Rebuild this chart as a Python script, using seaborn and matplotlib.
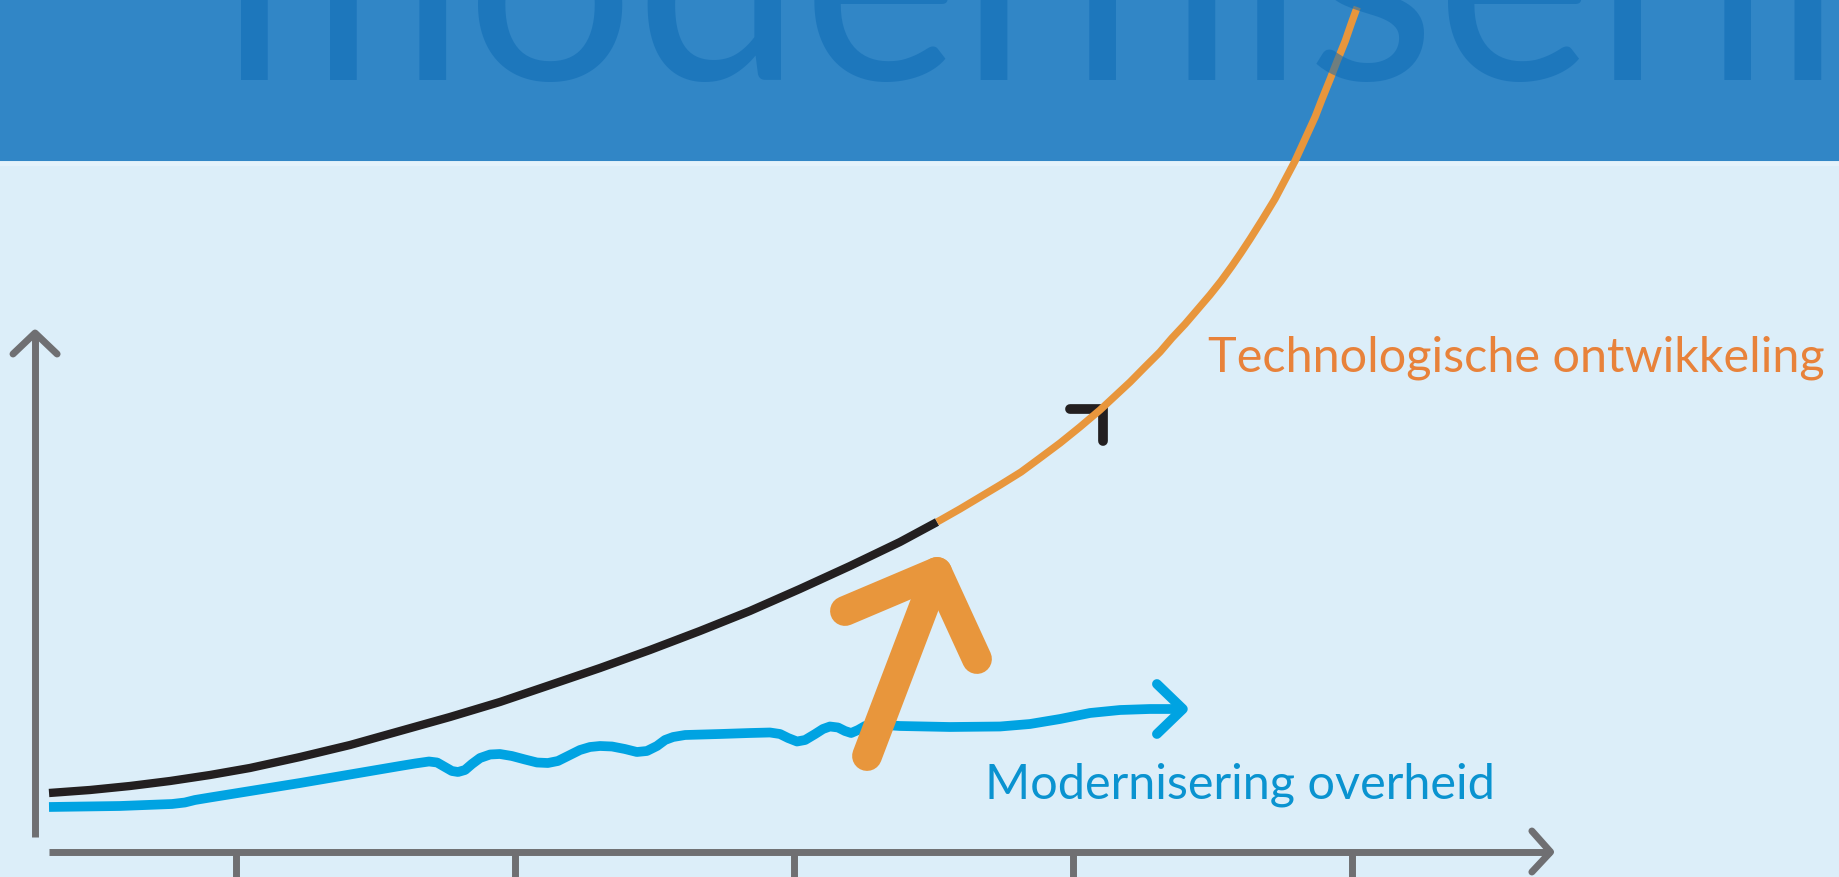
import matplotlib
matplotlib.use("Agg")
import matplotlib.pyplot as plt
import seaborn as sns

# x: tijd (ticks op 1..5), y: niveau (willekeurige eenheden)
tick_pos = [1, 2, 3, 4, 5]

tech_past_x = [0.328, 0.475, 0.618, 0.762, 0.905, 1.048, 1.228, 1.407, 1.586, 1.765,
               1.944, 2.124, 2.303, 2.482, 2.661, 2.840, 3.019, 3.199, 3.378, 3.511]
tech_past_y = [0.59, 0.62, 0.66, 0.71, 0.77, 0.84, 0.95, 1.07, 1.21, 1.35,
               1.50, 1.67, 1.84, 2.02, 2.21, 2.41, 2.63, 2.86, 3.10, 3.30]

tech_future_x = [3.511, 3.593, 3.665, 3.737, 3.812, 3.880, 3.952, 4.023, 4.095, 4.149,
                 4.203, 4.256, 4.310, 4.353, 4.400, 4.443, 4.489, 4.529, 4.568, 4.600,
                 4.633, 4.676, 4.722, 4.758, 4.794, 4.830, 4.866, 4.891, 4.920, 4.945,
                 4.974, 4.995, 5.017]
tech_future_y = [3.30, 3.43, 3.55, 3.67, 3.80, 3.94, 4.09, 4.25, 4.42, 4.56,
                 4.70, 4.85, 5.00, 5.14, 5.28, 5.42, 5.57, 5.71, 5.86, 5.99,
                 6.13, 6.32, 6.53, 6.72, 6.91, 7.13, 7.35, 7.53, 7.73, 7.91,
                 8.11, 8.28, 8.45]

gov_x = [0.328, 0.582, 0.769, 0.815, 0.851, 0.905, 1.228, 1.586, 1.640, 1.690,
         1.719, 1.747, 1.772, 1.794, 1.819, 1.844, 1.873, 1.909, 1.944, 1.987,
         2.034, 2.077, 2.116, 2.152, 2.188, 2.231, 2.267, 2.303, 2.346, 2.392,
         2.435, 2.471, 2.507, 2.536, 2.565, 2.608, 2.733, 2.841, 2.912, 2.948,
         2.977, 3.009, 3.038, 3.074, 3.102, 3.127, 3.156, 3.181, 3.203, 3.228,
         3.253, 3.278, 3.324, 3.378, 3.557, 3.737, 3.844, 3.952, 4.059, 4.167,
         4.274, 4.392]
gov_y = [0.45, 0.46, 0.48, 0.495, 0.52, 0.545, 0.69, 0.86, 0.885, 0.905,
         0.895, 0.85, 0.81, 0.80, 0.82, 0.88, 0.94, 0.975, 0.98, 0.96,
         0.925, 0.895, 0.89, 0.91, 0.96, 1.02, 1.05, 1.06, 1.055, 1.03,
         1.00, 1.01, 1.06, 1.12, 1.15, 1.17, 1.18, 1.19, 1.195, 1.18,
         1.14, 1.105, 1.12, 1.18, 1.23, 1.255, 1.245, 1.21, 1.19, 1.22,
         1.26, 1.275, 1.27, 1.26, 1.25, 1.255, 1.28, 1.33, 1.39, 1.42,
         1.43, 1.43]

title = "modernisering"
label_tech = "Technologische ontwikkeling"
label_gov = "Modernisering overheid"

BG = "#DCEEF9"
BANNER = "#3186C6"
BANNER_TEXT = "#0D6BB5"
BLACK = "#231F20"
ORANGE = "#E8963C"
ORANGE_TXT = "#E8823A"
BLUE = "#00A3E2"
BLUE_TXT = "#0A93D0"
GREY = "#6F6F72"

sns.set_theme(style="white")
plt.rcParams["font.family"] = ["Lato", "DejaVu Sans"]

fig = plt.figure(figsize=(18.39, 8.78), dpi=100)
fig.patch.set_facecolor(BG)
ax = fig.add_axes([0, 0, 1, 1])
ax.set_facecolor(BG)
ax.set_xlim(0.15233, 6.74373)
ax.set_ylim(-0.25, 8.53)
ax.axis("off")

# banner bovenaan
ax.axhspan(6.91, 8.53, color=BANNER, zorder=0, lw=0)
ax.axhspan(6.86, 6.905, color="#E4F2FB", zorder=0, lw=0)


def line(xs, ys, color, lw, cap="round", join="round", z=2):
    sns.lineplot(x=xs, y=ys, ax=ax, color=color, linewidth=lw, estimator=None,
                 sort=False, solid_capstyle=cap, solid_joinstyle=join, zorder=z)


# assen met pijlen
line([0.278, 0.278], [0.15, 5.19], GREY, 5, cap="butt")
line([0.199, 0.278, 0.357], [4.98, 5.19, 4.98], GREY, 5)
line([0.328, 5.71], [0, 0], GREY, 5, cap="butt")
line([5.643, 5.71, 5.643], [0.21, 0, -0.20], GREY, 5)
for t in tick_pos:
    line([t, t], [0, -0.3], GREY, 5, cap="butt")

# lijnen
line(gov_x, gov_y, BLUE, 7, cap="butt")
line([4.299, 4.392, 4.299], [1.68, 1.43, 1.18], BLUE, 7)
line(tech_past_x, tech_past_y, BLACK, 6, cap="butt")
line([3.987, 4.106, 4.106], [4.43, 4.43, 4.11], BLACK, 7, join="miter")
line(tech_future_x, tech_future_y, ORANGE, 5.3, cap="butt", z=3)

# dikke oranje pijl
line([3.260, 3.511], [0.96, 2.80], ORANGE, 21.5, z=4)
line([3.181, 3.511, 3.654], [2.41, 2.80, 1.93], ORANGE, 21.5, z=4)

# teksten
ax.text(0.941, 7.73, title, fontsize=215, color=BANNER_TEXT, alpha=0.55,
        ha="left", va="baseline", zorder=5)
ax.text(4.482, 4.81, label_tech, fontsize=35, color=ORANGE_TXT,
        ha="left", va="baseline", zorder=5)
ax.text(3.683, 0.54, label_gov, fontsize=35, color=BLUE_TXT,
        ha="left", va="baseline", zorder=5)

fig.savefig("out.png", dpi=100, facecolor=BG)
